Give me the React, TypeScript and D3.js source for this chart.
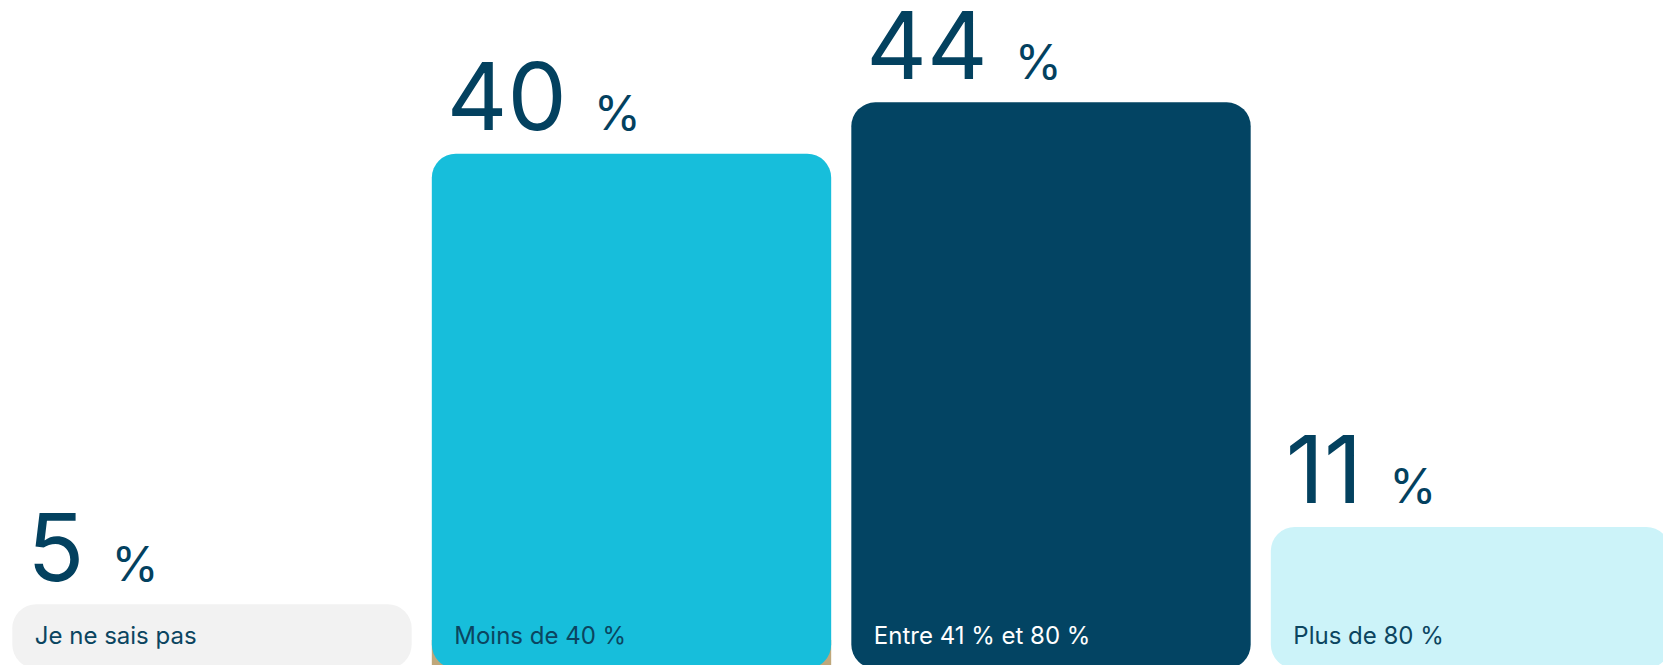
import React from "react";
import * as d3 from "d3";

const categories = ["Je ne sais pas", "Moins de 40 %", "Entre 41 % et 80 %", "Plus de 80 %"];
const values = [5, 40, 44, 11];
const barColors = ["#F2F2F2", "#17BEDB", "#034463", "#CCF3F9"];
const labelColors = ["#0B4560", "#0B4560", "#FFFFFF", "#0B4560"];

const W = 1663;
const H = 665;
const FONT = "Inter, 'DejaVu Sans', sans-serif";

export default function App() {
  const x = d3
    .scaleBand<string>()
    .domain(categories)
    .range([12.3, 1670.2])
    .paddingInner(0.048)
    .paddingOuter(0);
  const y = d3.scaleLinear().domain([0, 44]).range([668.5, 102.3]);
  const r = 24;
  const bw = x.bandwidth();

  return (
    <svg
      width={W}
      height={H}
      style={{ position: "absolute", left: 0, top: 0, overflow: "hidden", background: "#fff" }}
    >
      <rect
        x={x(categories[1])}
        y={640}
        width={bw}
        height={y(0) - 640}
        fill="#BFA77A"
      />
      {categories.map((c, i) => {
        const x0 = x(c) as number;
        const top = y(values[i]);
        return (
          <g key={c}>
            <rect x={x0} y={top} width={bw} height={y(0) - top} rx={r} ry={r} fill={barColors[i]} />
            <text
              x={x0 + 15}
              y={top - 23.5}
              fill="#03415F"
              fontFamily={FONT}
              fontSize={94}
              style={{ fontVariantNumeric: "proportional-nums" }}
            >
              {values[i]}
              <tspan dx={27} fontSize={48}>%</tspan>
            </text>
            <text
              x={x0 + 22.5}
              y={643.5}
              fill={labelColors[i]}
              fontFamily={FONT}
              fontSize={24}
            >
              {c}
            </text>
          </g>
        );
      })}
    </svg>
  );
}
